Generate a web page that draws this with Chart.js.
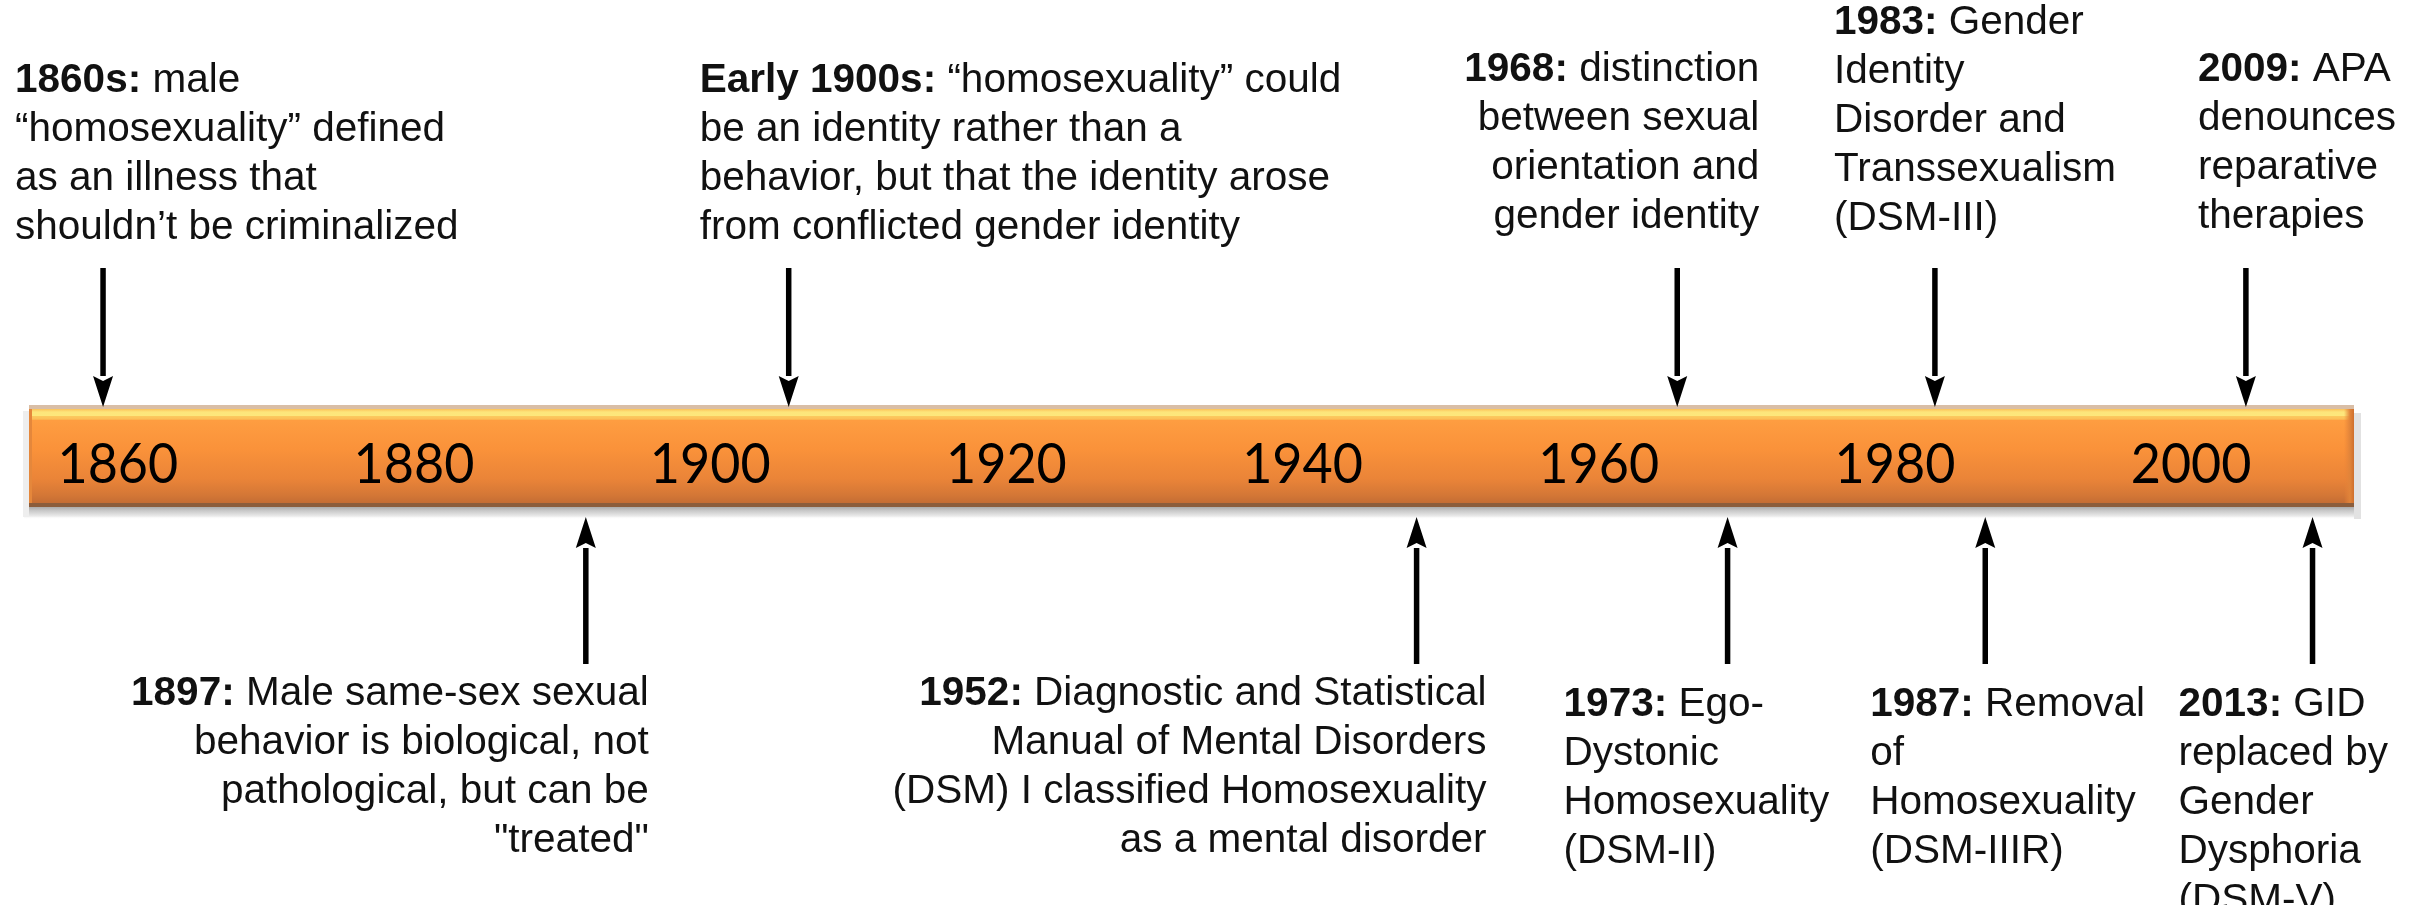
<!DOCTYPE html>
<html>
<head>
<meta charset="utf-8">
<title>Timeline</title>
<script src="https://cdn.jsdelivr.net/npm/chart.js@4"></script>
<style>
  html, body { margin: 0; padding: 0; background: #fff; }
  canvas { display: block; }
</style>
</head>
<body>
<canvas id="timeline" width="2417" height="905"></canvas>
<script>
// tick labels printed on the bar
var tickYears = [1860, 1880, 1900, 1920, 1940, 1960, 1980, 2000];

var eventTitles = ['1860s:', 'Early 1900s:', '1968:', '1983:', '2009:',
                   '1897:', '1952:', '1973:', '1987:', '2013:'];
var eventPos = [1859.0, 1905.3, 1965.3, 1982.7, 2003.7,
                1891.6, 1947.7, 1968.7, 1986.1, 2008.2];
var eventSide = ['top', 'top', 'top', 'top', 'top',
                 'bottom', 'bottom', 'bottom', 'bottom', 'bottom'];
var eventText = [
    [' male', '“homosexuality” defined', 'as an illness that', 'shouldn’t be criminalized'],
    [' “homosexuality” could', 'be an identity rather than a', 'behavior, but that the identity arose', 'from conflicted gender identity'],
    [' distinction', 'between sexual', 'orientation and', 'gender identity'],
    [' Gender', 'Identity', 'Disorder and', 'Transsexualism', '(DSM-III)'],
    [' APA', 'denounces', 'reparative', 'therapies'],
    [' Male same-sex sexual', 'behavior is biological, not', 'pathological, but can be', '"treated"'],
    [' Diagnostic and Statistical', 'Manual of Mental Disorders', '(DSM) I classified Homosexuality', 'as a mental disorder'],
    [' Ego-', 'Dystonic', 'Homosexuality', '(DSM-II)'],
    [' Removal', 'of', 'Homosexuality', '(DSM-IIIR)'],
    [' GID', 'replaced by', 'Gender', 'Dysphoria', '(DSM-V)']
];

// label placement (styling only): alignment, offset of text edge from the arrow, anchor line y
var labelAlign = ['left', 'left', 'right', 'left', 'left', 'right', 'right', 'left', 'left', 'left'];
var labelDx = [-88, -89, 82, -101, -48, 63, 70, -164, -115, -134];
var labelY = [228, 228, 217, 219, 217, 694, 694, 705, 705, 705];

var BAR_TOP = 405, BAR_BOTTOM = 507;
var LINE_H = 49;
var TEXT_FONT = '"Liberation Sans", Arial, sans-serif';

// draws the orange bar, year labels, arrows and texts
var timelinePlugin = {
    id: 'timelinePlugin',
    beforeDatasetsDraw: function (chart) {
        var ctx = chart.ctx;
        var a = chart.chartArea;
        var x = chart.scales.x;
        var w = a.right - a.left;

        ctx.save();
        // soft shadow round the bar
        var sh = ctx.createLinearGradient(0, BAR_BOTTOM - 2, 0, BAR_BOTTOM + 12);
        sh.addColorStop(0, '#9c9c9c');
        sh.addColorStop(0.4, '#c8c8c8');
        sh.addColorStop(0.8, '#ebebeb');
        sh.addColorStop(1, 'rgba(255,255,255,0)');
        ctx.fillStyle = sh;
        ctx.fillRect(a.left - 5, BAR_BOTTOM - 2, w + 12, 14);
        ctx.fillStyle = '#eeeeee';
        ctx.fillRect(a.left - 6, BAR_TOP + 6, 6, BAR_BOTTOM - BAR_TOP + 4);
        ctx.fillStyle = '#e2e2e2';
        ctx.fillRect(a.right, BAR_TOP + 8, 7, BAR_BOTTOM - BAR_TOP + 4);

        // beige top rim
        ctx.fillStyle = '#d9bea6';
        ctx.fillRect(a.left, BAR_TOP, w, 4);

        // body
        var top = BAR_TOP + 4, bot = BAR_BOTTOM - 4;
        var g = ctx.createLinearGradient(0, top, 0, bot);
        var span = bot - top;
        function st(y, c) { g.addColorStop((y - top) / span, c); }
        st(top, '#fcc25a');
        st(top + 3, '#fde57b');
        st(top + 6.5, '#fde77c');
        st(top + 7.5, '#fcc85e');
        st(top + 10, '#fcbf58');
        st(top + 11.5, '#fe9d41');
        st(top + 40, '#fa923a');
        st(top + 70, '#ea8438');
        st(top + 86, '#d47736');
        st(bot, '#c46d34');
        ctx.fillStyle = g;
        ctx.fillRect(a.left, top, w, span);

        // left edge
        ctx.fillStyle = '#e5873b';
        ctx.fillRect(a.left, top, 3, span);
        // right bevel
        var rg = ctx.createLinearGradient(a.right - 10, 0, a.right, 0);
        rg.addColorStop(0, 'rgba(232,130,56,0)');
        rg.addColorStop(0.6, '#e0843a');
        rg.addColorStop(1, '#cf6f2c');
        ctx.fillStyle = rg;
        ctx.fillRect(a.right - 10, top, 10, span);

        // bottom dark rim
        ctx.fillStyle = '#8b5d3c';
        ctx.fillRect(a.left, BAR_BOTTOM - 4, w, 4);

        // year labels on the bar
        ctx.fillStyle = '#000';
        ctx.textAlign = 'center';
        ctx.textBaseline = 'middle';
        ctx.font = '56px Lato, "Open Sans", sans-serif';
        tickYears.forEach(function (yr) {
            var px = x.getPixelForValue(yr);
            ctx.save();
            ctx.translate(px, 465);
            ctx.scale(0.93, 1);
            ctx.fillText(String(yr), 0, 0);
            ctx.restore();
        });
        ctx.restore();
    },
    afterDatasetsDraw: function (chart) {
        var ctx = chart.ctx;
        var meta = chart.getDatasetMeta(0);
        ctx.save();
        meta.data.forEach(function (el, i) {
            var px = el.x;
            var up = eventSide[i] === 'top';
            drawArrow(ctx, px, up);
            drawLabel(ctx, px, i);
        });
        ctx.restore();
    }
};

function drawArrow(ctx, px, fromTop) {
    var tip = fromTop ? BAR_TOP + 2 : BAR_BOTTOM + 10;
    var tail = fromTop ? 268 : 664;
    var dir = fromTop ? 1 : -1;
    var headLen = 31, headW = 20;
    ctx.strokeStyle = '#000';
    ctx.lineWidth = 5.5;
    ctx.beginPath();
    ctx.moveTo(px, tail);
    ctx.lineTo(px, tip - dir * headLen);
    ctx.stroke();
    ctx.fillStyle = '#000';
    ctx.beginPath();
    ctx.moveTo(px, tip);
    ctx.lineTo(px - headW / 2, tip - dir * headLen);
    ctx.lineTo(px, tip - dir * (headLen - 5));
    ctx.lineTo(px + headW / 2, tip - dir * headLen);
    ctx.closePath();
    ctx.fill();
}

function drawLabel(ctx, px, i) {
    var lines = eventText[i];
    var align = labelAlign[i];
    var edge = px + labelDx[i];
    var y0 = eventSide[i] === 'top' ? labelY[i] - (lines.length - 1) * LINE_H : labelY[i];
    var bold = 'bold 40.5px ' + TEXT_FONT;
    var reg = '40.5px ' + TEXT_FONT;
    ctx.fillStyle = '#111';
    ctx.textBaseline = 'middle';
    ctx.textAlign = 'left';
    lines.forEach(function (line, k) {
        var y = y0 + k * LINE_H;
        if (k === 0) {
            ctx.font = bold;
            var bw = ctx.measureText(eventTitles[i]).width;
            ctx.font = reg;
            var rw = ctx.measureText(line).width;
            var lx = align === 'left' ? edge : edge - bw - rw;
            ctx.font = bold;
            ctx.fillText(eventTitles[i], lx, y);
            ctx.font = reg;
            ctx.fillText(line, lx + bw, y);
        } else {
            ctx.font = reg;
            var lw = ctx.measureText(line).width;
            ctx.fillText(line, align === 'left' ? edge : edge - lw, y);
        }
    });
}

var ctx = document.getElementById('timeline').getContext('2d');
var chart = new Chart(ctx, {
    type: 'scatter',
    data: {
        datasets: [{
            label: 'events',
            data: eventPos.map(function (p, i) {
                return { x: p, y: eventSide[i] === 'top' ? 0.5 : -0.5 };
            }),
            pointRadius: 0,
            pointHoverRadius: 0
        }]
    },
    options: {
        responsive: false,
        devicePixelRatio: 1,
        animation: false,
        layout: { padding: { left: 29, right: 63, top: 0, bottom: 0 } },
        plugins: { legend: { display: false }, tooltip: { enabled: false } },
        scales: {
            x: { type: 'linear', min: 1854, max: 2011, display: false },
            y: { min: -1, max: 1, display: false }
        }
    },
    plugins: [timelinePlugin]
});
</script>
</body>
</html>
